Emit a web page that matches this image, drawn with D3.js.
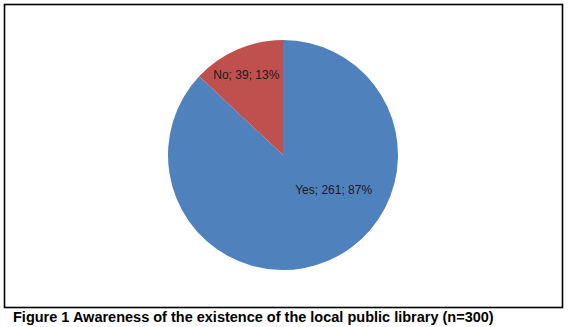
<!DOCTYPE html>
<html>
<head>
<meta charset="utf-8">
<script src="https://cdn.jsdelivr.net/npm/d3@7"></script>
<style>
  html, body { margin: 0; padding: 0; background: #fff; }
  svg { display: block; }
</style>
</head>
<body>
<svg id="chart" width="572" height="327"></svg>
<script>
// Data
var categories = ['Yes', 'No'];
var counts = [261, 39];
var percents = [87, 13];
var colors = ['#4F81BD', '#C0504D'];
var title = 'Figure 1 Awareness of the existence of the local public library (n=300)';

var svg = d3.select('#chart');

// Chart frame
svg.append('rect')
    .attr('x', 4.5)
    .attr('y', 4.5)
    .attr('width', 558)
    .attr('height', 303)
    .attr('fill', '#fff')
    .attr('stroke', '#000')
    .attr('stroke-width', 1.6);

var cx = 283, cy = 155, radius = 115;

var data = categories.map(function(c, i) {
    return { key: c, value: counts[i], pct: percents[i], color: colors[i] };
});

// Excel draws clockwise from 12 o'clock
var pie = d3.pie()
    .sort(null)
    .value(function(d) { return d.value; });

var arc = d3.arc()
    .innerRadius(0)
    .outerRadius(radius);

var g = svg.append('g')
    .attr('transform', 'translate(' + cx + ',' + cy + ')');

var arcs = pie(data);

g.selectAll('path.slice')
    .data(arcs)
    .enter().append('path')
        .attr('class', 'slice')
        .attr('d', arc)
        .attr('fill', function(d) { return d.data.color; });

// Label placement (best fit, roughly)
var labelPos = {
    Yes: function(d) { return [0.44 * radius, 0.30 * radius]; },
    No: function(d) {
        var a = (d.startAngle + d.endAngle) / 2, r = 0.76 * radius;
        return [r * Math.sin(a) - 2, -r * Math.cos(a)];
    }
};

g.selectAll('text.lbl')
    .data(arcs)
    .enter().append('text')
        .attr('class', 'lbl')
        .attr('transform', function(d) {
            var p = labelPos[d.data.key](d);
            return 'translate(' + p[0] + ',' + p[1] + ')';
        })
        .attr('text-anchor', 'middle')
        .attr('dy', '0.35em')
        .style('font-family', 'Arial, "Liberation Sans", sans-serif')
        .style('font-size', '12px')
        .style('fill', '#1a1a1a')
        .text(function(d) { return d.data.key + '; ' + d.data.value + '; ' + d.data.pct + '%'; });

// Caption
svg.append('text')
    .attr('x', 13)
    .attr('y', 322)
    .style('font-family', 'Arial, "Liberation Sans", sans-serif')
    .style('font-size', '14.5px')
    .style('font-weight', 'bold')
    .style('fill', '#000')
    .text(title);
</script>
</body>
</html>
